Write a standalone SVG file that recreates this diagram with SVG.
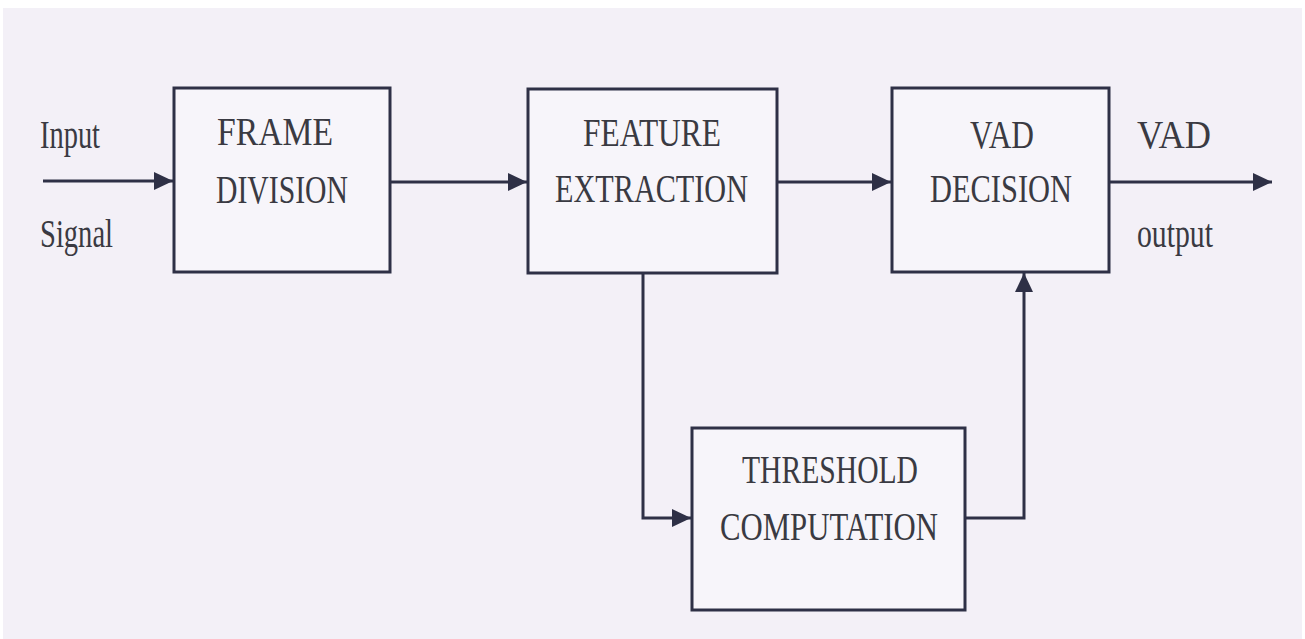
<svg xmlns="http://www.w3.org/2000/svg" width="1305" height="639" viewBox="0 0 1305 639">
  <style>
    .box { fill: #f7f5fa; stroke: #2e3046; stroke-width: 3; }
    .wire { fill: none; stroke: #2e3046; stroke-width: 3; }
    .lbl { font-family: "Liberation Serif", "Times New Roman", serif; font-size: 40px; fill: #3a3a42; }
  </style>
  <defs>
    <marker id="arrow" markerUnits="userSpaceOnUse" markerWidth="22" markerHeight="22" refX="19" refY="11" orient="auto">
      <path d="M0,2 L19,11 L0,20 Z" fill="#2e3046"/>
    </marker>
  </defs>

  <!-- page background -->
  <rect x="0" y="0" width="1305" height="639" fill="#ffffff"/>
  <rect x="3" y="8" width="1299" height="631" fill="#f3f0f7"/>

  <!-- connectors -->
  <g id="connectors">
    <path class="wire" d="M43,181 L173,181" marker-end="url(#arrow)"/>
    <path class="wire" d="M390,182 L527,182" marker-end="url(#arrow)"/>
    <path class="wire" d="M777,182 L891,182" marker-end="url(#arrow)"/>
    <path class="wire" d="M1109,182 L1272,182" marker-end="url(#arrow)"/>
    <path class="wire" d="M643,273 L643,518 L691,518" marker-end="url(#arrow)"/>
    <path class="wire" d="M965,518 L1024,518 L1024,273" marker-end="url(#arrow)"/>
  </g>

  <!-- free labels -->
  <g id="io-labels">
    <text class="lbl" x="40" y="148" textLength="60" lengthAdjust="spacingAndGlyphs">Input</text>
    <text class="lbl" x="40" y="247" textLength="73" lengthAdjust="spacingAndGlyphs">Signal</text>
    <text class="lbl" x="1137" y="148" textLength="74" lengthAdjust="spacingAndGlyphs">VAD</text>
    <text class="lbl" x="1137" y="247" textLength="76" lengthAdjust="spacingAndGlyphs">output</text>
  </g>

  <g id="frame-division">
    <rect class="box" x="174" y="88" width="216" height="184"/>
    <text class="lbl" x="217" y="145" textLength="116" lengthAdjust="spacingAndGlyphs">FRAME</text>
    <text class="lbl" x="216" y="203" textLength="132" lengthAdjust="spacingAndGlyphs">DIVISION</text>
  </g>

  <g id="feature-extraction">
    <rect class="box" x="528" y="89" width="249" height="184"/>
    <text class="lbl" x="583" y="146" textLength="138" lengthAdjust="spacingAndGlyphs">FEATURE</text>
    <text class="lbl" x="555" y="202" textLength="193" lengthAdjust="spacingAndGlyphs">EXTRACTION</text>
  </g>

  <g id="vad-decision">
    <rect class="box" x="892" y="88" width="217" height="184"/>
    <text class="lbl" x="970" y="148" textLength="64" lengthAdjust="spacingAndGlyphs">VAD</text>
    <text class="lbl" x="930" y="202" textLength="142" lengthAdjust="spacingAndGlyphs">DECISION</text>
  </g>

  <g id="threshold-computation">
    <rect class="box" x="692" y="428" width="273" height="182"/>
    <text class="lbl" x="742" y="483" textLength="176" lengthAdjust="spacingAndGlyphs">THRESHOLD</text>
    <text class="lbl" x="720" y="540" textLength="218" lengthAdjust="spacingAndGlyphs">COMPUTATION</text>
  </g>
</svg>
